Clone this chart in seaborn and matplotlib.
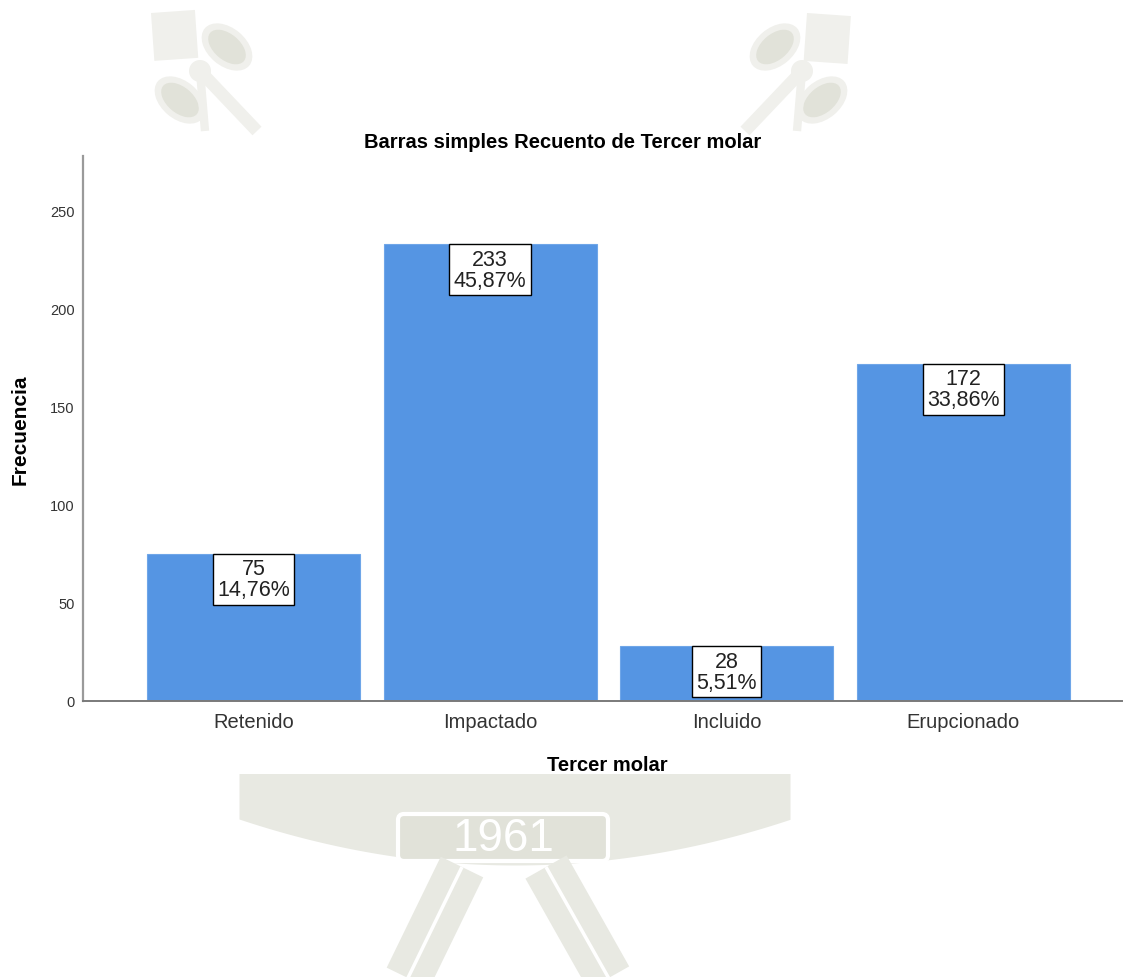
import matplotlib
matplotlib.use("Agg")
import matplotlib.pyplot as plt
import matplotlib.patches as mpatches
import seaborn as sns
import numpy as np

# Frequency table for third molar status
categories = ["Retenido", "Impactado", "Incluido", "Erupcionado"]
counts = [75, 233, 28, 172]
yticks = [0, 50, 100, 150, 200, 250]

total = sum(counts)
percents = [c / total * 100 for c in counts]

sns.set_theme(style="white")
plt.rcParams["font.family"] = ["Liberation Sans", "DejaVu Sans"]

W, H = 1126, 978
fig = plt.figure(figsize=(W / 100, H / 100), dpi=100)
fig.patch.set_facecolor("white")

# --- faint institutional seal in the background (pixel coordinates) ---
pale = "#F0F0EC"
mid = "#E8E9E2"
dark = "#E1E2D9"
bg = fig.add_axes([0, 0, 1, 1], zorder=-10)
bg.set_xlim(0, W)
bg.set_ylim(H, 0)
bg.axis("off")


def scissors(cx, side):
    # side = +1 for the left emblem, -1 for the mirrored right one
    sq_x = cx - side * 27
    bg.add_patch(mpatches.Rectangle((sq_x - 22, 14), 44, 48, angle=side * -4, fc=pale, ec="none"))
    bg.plot([cx, cx + side * 57], [72, 132], color=pale, lw=9, solid_capstyle="butt")
    bg.plot([cx, cx + side * 5], [72, 132], color=pale, lw=6, solid_capstyle="butt")
    bg.add_patch(mpatches.Circle((cx, 72), 11, fc=pale, ec="none"))
    for (dx, dy) in ((side * 27, -24), (side * -20, 29)):
        bg.add_patch(mpatches.Ellipse((cx + dx, 72 + dy), 58, 38, angle=side * 40, fc=pale, ec="none"))
        bg.add_patch(mpatches.Ellipse((cx + dx, 72 + dy), 44, 26, angle=side * 40, fc=dark, ec="none"))


scissors(200, +1)
scissors(802, -1)

# ribbon wings
xs = np.linspace(239, 790, 80)
lower = 866 - 46 * ((xs - 515) / 276) ** 2
bg.fill_between(xs, 760, lower, color=mid, lw=0)
# central banner with the year
bg.add_patch(mpatches.FancyBboxPatch((398, 815), 210, 47, boxstyle="round,pad=0,rounding_size=6",
                                     fc=dark, ec="white", lw=3))
bg.text(503, 839, "1961", ha="center", va="center", fontsize=33, color="white",
        family="Liberation Sans")
# crossed keys below the banner
for (x0, y0, x1, y1) in ((462, 868, 405, 985), (546, 868, 612, 985)):
    bg.plot([x0, x1], [y0, y1], color=mid, lw=34, solid_capstyle="butt")
    bg.plot([x0, x1], [y0, y1], color="white", lw=2.5, solid_capstyle="butt")
# white panel behind the chart
bg.add_patch(mpatches.Rectangle((0, 130), W, 645, fc="white", ec="none"))

# --- bar chart ---
left, right, top_px, bottom_px = 83, 1122, 157, 702
ax = fig.add_axes([left / W, 1 - bottom_px / H, (right - left) / W, (bottom_px - top_px) / H])
ax.set_facecolor("none")

sns.barplot(x=categories, y=counts, color="#5595E3", saturation=1, width=0.9,
            edgecolor="#6FA6E8", linewidth=0.8, ax=ax)

ax.set_xlim(-0.72, 3.67)
ax.set_ylim(0, 278)
ax.set_yticks(yticks)
ax.set_yticklabels([str(v) for v in yticks])

for i, (c, p) in enumerate(zip(counts, percents)):
    label = f"{c}\n{p:.2f}%".replace(".", ",")
    ax.annotate(label, xy=(i, c), xytext=(0, -3.2), textcoords="offset points",
                ha="center", va="top", fontsize=15.5, color="#222222", linespacing=1.0,
                bbox=dict(boxstyle="square,pad=0.2", fc="white", ec="black", lw=1.0))

ax.tick_params(axis="y", length=0, pad=6, labelsize=10.5, labelcolor="#333333")
ax.tick_params(axis="x", length=0, pad=8, labelsize=14.5, labelcolor="#333333")

for s in ("top", "right"):
    ax.spines[s].set_visible(False)
ax.spines["left"].set_color("#9A9A9A")
ax.spines["left"].set_linewidth(1.6)
ax.spines["bottom"].set_color("#7A7A7A")
ax.spines["bottom"].set_linewidth(1.4)

ax.set_xlabel("Tercer molar", fontsize=14.5, fontweight="bold", color="black")
ax.xaxis.set_label_coords(0.5048, -0.100)
ax.set_ylabel("Frecuencia", fontsize=15, fontweight="bold", color="black")
ax.yaxis.set_label_coords(-0.051, 0.5)

fig.text(0.5, 1 - 142 / H, "Barras simples Recuento de Tercer molar", ha="center",
         va="center", fontsize=14.5, fontweight="bold", color="black")

fig.savefig("out.png", dpi=100, facecolor="white")
